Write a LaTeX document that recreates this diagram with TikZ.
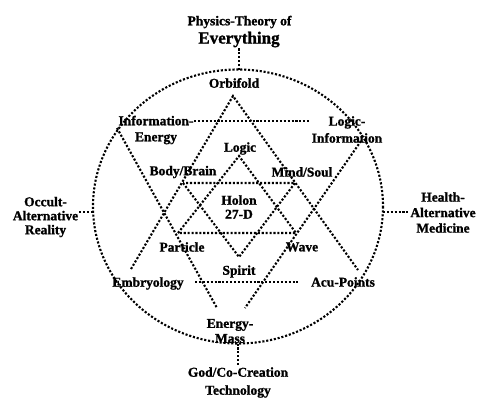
\documentclass[tikz,border=0pt]{standalone}
\usepackage{fontspec}
\setmainfont[BoldFeatures={FakeBold=1.2}]{Liberation Serif}
\newcommand{\labfont}[1]{\bfseries\fontsize{13.5}{#1}\selectfont}
\begin{document}
\begin{tikzpicture}[x=1pt,y=-1pt,
  dotline/.style={line width=2.1pt, dash pattern=on 2.1pt off 1.8pt, black},
  lab/.style={font=\labfont{15.5}, align=center, inner sep=1pt}]
\useasboundingbox (0,0) rectangle (487,405);
% circle
\coordinate (ctr) at (238,206.5);
\draw[dotline] (ctr) ellipse [x radius=145, y radius=137];
\coordinate (ctop) at (239,69.5);
\coordinate (cbot) at (238,343.5);
\coordinate (cleft) at (93.1,212);
\coordinate (cright) at (382.9,212);
% big upward triangle
\coordinate (bu1) at (233,96);
\coordinate (bu2) at (131,269);
\coordinate (bu3) at (358,270);
% big downward triangle
\coordinate (bd1) at (117,128);
\coordinate (bd2) at (361,141);
\coordinate (bd3l) at (217,308);
\coordinate (bd3r) at (245,308);
\coordinate (tl1) at (194,121);
\coordinate (tl2) at (310,121);
\coordinate (bl1) at (195,282);
\coordinate (bl2) at (298,282);
% small hexagram
\coordinate (sl) at (239,156);
\coordinate (sb1) at (178,233);
\coordinate (sb2) at (296,233);
\coordinate (sd1) at (183,183);
\coordinate (sd2) at (295,183);
\coordinate (sp) at (239,257);
\draw[dotline] (bu2) -- (bu1) -- (bu3);
\draw[dotline] (bd1) -- (bd3l);
\draw[dotline] (bd2) -- (bd3r);
\draw[dotline] (tl1) -- (tl2);
\draw[dotline] (bl1) -- (bl2);
\draw[dotline] (sb1) -- (sl) -- (sb2) -- cycle;
\draw[dotline] (sd1) -- (sp) -- (sd2) -- cycle;
% labels
\node[lab] (phys) at (239.5,22) {Physics-Theory of};
\node[lab, font=\bfseries\fontsize{17}{19}\selectfont] (every) at (239,39.5) {Everything};
\node[lab] (orb) at (234,83) {Orbifold};
\node[lab, font=\labfont{16}] (info) at (156,130) {Information-\\Energy};
\node[lab, font=\labfont{17}] (loginfo) at (347,129.5) {Logic-\\Information};
\node[lab] (logic) at (240,148.5) {Logic};
\node[lab] (body) at (183,172) {Body/Brain};
\node[lab] (mind) at (302,172) {Mind/Soul};
\node[lab, font=\labfont{14}] (holon) at (239,207) {Holon\\27-D};
\node[lab] (particle) at (182,247) {Particle};
\node[lab] (wave) at (302,247) {Wave};
\node[lab] (spirit) at (239,271.5) {Spirit};
\node[lab] (embryo) at (148,283.5) {Embryology};
\node[lab] (acu) at (343,282) {Acu-Points};
\node[lab, font=\labfont{15}] (energy) at (230,331) {Energy-\\Mass};
\node[lab, font=\labfont{14}] (occ) at (45.5,217) {Occult-\\Alternative\\Reality};
\node[lab] (hea) at (443,212.5) {Health-\\Alternative\\Medicine};
\node[lab, font=\labfont{18}] (god) at (238,382.5) {God/Co-Creation\\Technology};
% connectors
\draw[dotline] (every) -- (ctop);
\draw[dotline] (cbot) -- (god);
\draw[dotline] (occ.east |- cleft) -- (cleft);
\draw[dotline] (cright) -- (hea.west |- cright);
\end{tikzpicture}
\end{document}
